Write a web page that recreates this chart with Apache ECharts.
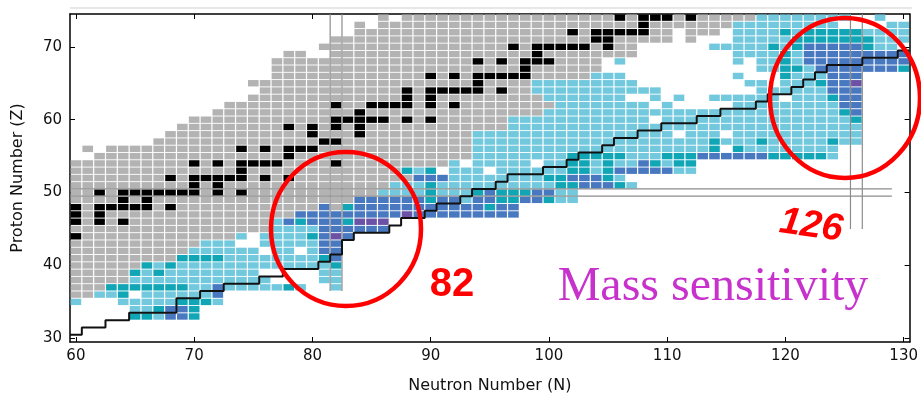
<!DOCTYPE html>
<html><head><meta charset="utf-8">
<script src="https://cdn.jsdelivr.net/npm/echarts@6/dist/echarts.min.js"></script>
<style>html,body{margin:0;padding:0;background:#fff}#c{width:921px;height:399px}</style>
</head><body><div id="c"></div>
<script>
// ---- data ----
const xTicks = [60,70,80,90,100,110,120,130];
const yTicks = [30,40,50,60,70];
const nStart = 60;
// one character per neutron number N (from N=60), per proton number Z
// g=measured(grey) k=black l=light blue t=teal b=blue d=dark blue p=purple .=none
const cellRows = {
74: ".......... .......... ......g.gg gggggggggg ggggggkgkk kgkgggggll llllll..l. .",
73: ".......... .......... ....g.gggg gggggggggg ggggggggkg ggggggllll lllll....l l",
72: ".......... .......... ....gggggg gggggggggg ggkgkkkkkg g.ggg.llll tltttttlll l",
71: ".......... .......... ..gggggggg gggggggggg ggggkkgggg g.g...llll ltttttttll l",
70: ".......... .......... .ggggggggg gggggggkgk kkkkgkgg.. ....lllllt ltbbbbbtll .",
69: ".......... ........gg ..gggggggg gggggggggk gggggggg.. ......llll tlbbbbbbbb b",
68: ".......... .......ggg gggggggggg ggggkgkgkk kgggg.l... ......l.ll tlbbbbbbbb b",
67: ".......... .......ggg gggggggggg ggggggggkg ggggg..... ........ll ttlbbbbbbb t",
66: ".......... .......ggg gggggggggg kgkgkkkkkg gggglll... ......l... tlllbbb... .",
65: ".......... .....ggggg gggggggggg ggggkggggl llllllll.. .......ll. llltbbp... .",
64: ".......... ......gggg ggggggggkg kkkkkgkggl llllllllll ........ll llllbbb... .",
63: ".......... .....ggggg ggggggggkg kggggggggg lllllll..l .l..llllll .llltbb... .",
62: ".......... ...ggggggg ggkggkkkkg kgkggggggg gllllllll. l.....llll lllllbb... .",
61: ".......... ..gggggggg ggggkggggg gggggggggg llllllllll llllllllll llllltb... .",
60: ".......... gggggggggg ggkkkkkgkg kgggggglll lllllllll. llllllllll llllllt... .",
59: ".........g ggggggggkg kgkgkggggg ggggggglll llllllllll llllllllll lllllll... .",
58: "........gg gggggggggg kgggkggggg gggglllll l llllllllll l.lll.llll lllllll... .",
57: ".......ggg gggggggggg gkkggggggg ggggllllll llllllllll lllltllltl lllltll... .",
56: ".g.ggggggg ggggkgkgkk kggggggggg ggggllllll llllllllll llllt.tlll lllll..... .",
55: "..gggggggg ggggggggkg gggggggggg ggggllllll lltttttlll tttbbbbbbt ttttl..... .",
54: "gggggggggg kgkgkkkkgg ggkggggggg ggl.lllll. llttltllbt ltt....... .......... .",
53: "gggggggggg ggggkggggg ggggggggtl t.lll.llll llttltbbbb bll....... .......... .",
52: "ggggggggkg kkkkkgkgkg gggggggggb bbllllllll ttbbbtl... .......... .......... .",
51: "gggggggggg kgkggggggg ggggggglll tlllllllll lttbbbtl.. .......... .......... .",
50: "ggkgkkkkkk kgkgkggggg ggggggllll tllltbtttb bll....... .......... .......... .",
49: "ggggkgkggg gggggggggg ggggbbbbbb tbblbbttbb tll....... .......... .......... .",
48: "kgkkkkkgkg gggggggggg gbgtbbbbbb bbbbbtbb.. .......... .......... .......... .",
47: "kgkggggggg gggggggggb bbbbbbbbpb bbbbbbbb.. .......... .......... .......... .",
46: "kgkgkggggg ggggggglbt bbbtppp... .......... .......... .......... .......... .",
45: "gggggggggg ggggggglll lbbbbbb... .......... .......... .......... .......... .",
44: "kggggggggg ggggl.llll tbpb...... .......... .......... .......... .......... .",
43: "gggggggggg glll..llll lbb....... .......... .......... .......... .......... .",
42: "gggggggggg llllll.ll. lbb....... .......... .......... .......... .......... .",
41: "gggggggggt tttlllllll ltb....... .......... .......... .......... .......... .",
40: "ggggggtltl llllllllll llt....... .......... .......... .......... .......... .",
39: "gggggtltll llllll.... .ll....... .......... .......... .......... .......... .",
38: "ggggglllll lllllll... .ll....... .......... .......... .......... .......... .",
37: "gggttttttt llbllllltl ..l....... .......... .......... .......... .......... .",
36: "ggllt.llll llb....... .......... .......... .......... .......... .......... .",
35: "l...lllllt ttl....... .......... .......... .......... .......... .......... .",
34: ".....lltbb t......... .......... .......... .......... .......... .......... .",
33: ".....ttlbb t......... .......... .......... .......... .......... .......... ."
};
const cellCodes = ['g','k','l','t','b','d','p'];
const cellColors = ['#b3b3b3','#000000','#72c9de','#10a6b6','#4878c0','#3d50a6','#6b52a7'];

// staircase corner points
const stairN = [59.5,60.5,60.5,62.5,62.5,64.5,64.5,68.5,68.5,70.5,70.5,72.5,72.5,75.5,75.5,77.5,77.5,80.5,80.5,81.5,81.5,82.5,82.5,83.5,83.5,86.5,86.5,87.5,87.5,89.5,89.5,90.5,90.5,92.5,92.5,93.5,93.5,95.5,95.5,96.5,96.5,99.5,99.5,101.5,101.5,102.5,102.5,104.5,104.5,105.5,105.5,107.5,107.5,109.5,109.5,112.5,112.5,114.5,114.5,117.5,117.5,118.5,118.5,120.5,120.5,121.5,121.5,122.5,122.5,123.5,123.5,126.5,126.5,129.5,129.5,130.5];
const stairZ = [30.5,30.5,31.5,31.5,32.5,32.5,33.5,33.5,35.5,35.5,36.5,36.5,37.5,37.5,38.5,38.5,39.5,39.5,40.5,40.5,41.5,41.5,43.5,43.5,44.5,44.5,45.5,45.5,46.5,46.5,47.5,47.5,48.5,48.5,49.5,49.5,50.5,50.5,51.5,51.5,52.5,52.5,53.5,53.5,54.5,54.5,55.5,55.5,56.5,56.5,57.5,57.5,58.5,58.5,59.5,59.5,60.5,60.5,61.5,61.5,62.5,62.5,63.5,63.5,64.5,64.5,65.5,65.5,66.5,66.5,67.5,67.5,68.5,68.5,69.5,69.5];

// magic number guide lines
const magicN = [81.5, 82.5, 125.5, 126.5];
const magicNFromZ = [36.5, 36.5, 45, 45];
const magicZ = [49.5, 50.5];
const magicZToN = [129, 129];

// ---- build ----
const cells = [];
Object.keys(cellRows).forEach(function (zk) {
  const z = +zk;
  const s = cellRows[zk].replace(/ /g, '');
  for (let i = 0; i < s.length; i++) {
    const c = cellCodes.indexOf(s[i]);
    if (c >= 0) cells.push([nStart + i, z, c]);
  }
});

const xMin = 59.5, xMax = 130.5, yMin = 29.5, yMax = 74.5;
const font = 'DejaVu Sans';
const chart = echarts.init(document.getElementById('c'), null, {renderer: 'canvas'});

function axisCommon(ticks) {
  return {
    type: 'value', splitLine: {show: false},
    axisLine: {show: true, onZero: false, lineStyle: {color: '#000', width: 1.5}},
    axisTick: {show: true, inside: true, length: 5, customValues: ticks, lineStyle: {color: '#000', width: 1}}
  };
}

const series = [{
  type: 'custom', clip: true, data: cells, z: 2,
  renderItem: function (params, api) {
    const n = api.value(0), z = api.value(1), c = api.value(2);
    const p0 = api.coord([n - 0.5, z + 0.5]);
    const p1 = api.coord([n + 0.5, z - 0.5]);
    return {type: 'rect',
      shape: {x: p0[0] + 0.6, y: p0[1] + 0.45, width: p1[0] - p0[0] - 1.2, height: p1[1] - p0[1] - 0.9},
      style: {fill: cellColors[c]}};
  }
}];
magicN.forEach(function (n, i) {
  series.push({type: 'line', data: [[n, magicNFromZ[i]], [n, yMax]], symbol: 'none', silent: true, z: 3,
    lineStyle: {color: '#8c8c8c', width: 1.2}});
});
magicZ.forEach(function (z, i) {
  series.push({type: 'line', data: [[xMin, z], [magicZToN[i], z]], symbol: 'none', silent: true, z: 3,
    lineStyle: {color: '#8c8c8c', width: 1.2}});
});
series.push({type: 'line', data: stairN.map(function (n, i) { return [n, stairZ[i]]; }),
  symbol: 'none', silent: true, z: 4, lineStyle: {color: '#111', width: 2}});

const xa = axisCommon(xTicks), xb = axisCommon(xTicks), ya = axisCommon(yTicks), yb = axisCommon(yTicks);
Object.assign(xa, {min: xMin, max: xMax, position: 'bottom',
  axisLabel: {customValues: xTicks, color: '#111', fontSize: 15, fontFamily: font, margin: 7},
  name: 'Neutron Number (N)', nameLocation: 'middle', nameGap: 36,
  nameTextStyle: {color: '#111', fontSize: 16, fontFamily: font}});
Object.assign(xb, {min: xMin, max: xMax, position: 'top', axisLabel: {show: false}});
Object.assign(ya, {min: yMin, max: yMax, position: 'left',
  axisLabel: {customValues: yTicks, color: '#111', fontSize: 15, fontFamily: font, margin: 8},
  name: 'Proton Number (Z)', nameLocation: 'middle', nameGap: 44,
  nameTextStyle: {color: '#111', fontSize: 16, fontFamily: font}});
Object.assign(yb, {min: yMin, max: yMax, position: 'right', axisLabel: {show: false}});

chart.setOption({
  animation: false,
  backgroundColor: '#fff',
  grid: {left: 70, top: 14, width: 842, height: 328, containLabel: false},
  xAxis: [xa, xb],
  yAxis: [ya, yb],
  series: series,
  graphic: [
    {type: 'line', shape: {x1: 70, y1: 8, x2: 912, y2: 8}, style: {stroke: '#cfcfcf', lineWidth: 1}, z: 1},
    {type: 'ellipse', shape: {cx: 346, cy: 229, rx: 75, ry: 77}, style: {fill: null, stroke: '#ff0000', lineWidth: 4.5}, z: 10},
    {type: 'ellipse', shape: {cx: 845, cy: 98, rx: 75, ry: 80}, style: {fill: null, stroke: '#ff0000', lineWidth: 4.5}, z: 10},
    {type: 'text', x: 452, y: 285, style: {text: '82', fill: '#ff0000', fontSize: 40, fontWeight: 'bold', fontFamily: 'Liberation Sans', align: 'center', verticalAlign: 'middle'}, z: 10},
    {type: 'text', x: 811, y: 226, rotation: -0.14, style: {text: '126', fill: '#ff0000', fontSize: 38, fontWeight: 'bold', fontStyle: 'italic', fontFamily: 'Liberation Sans', align: 'center', verticalAlign: 'middle'}, z: 10},
    {type: 'text', x: 713, y: 287, style: {text: 'Mass sensitivity', fill: '#c832cc', fontSize: 48, fontFamily: 'Liberation Serif', align: 'center', verticalAlign: 'middle'}, z: 10}
  ]
});
</script>
</body></html>
